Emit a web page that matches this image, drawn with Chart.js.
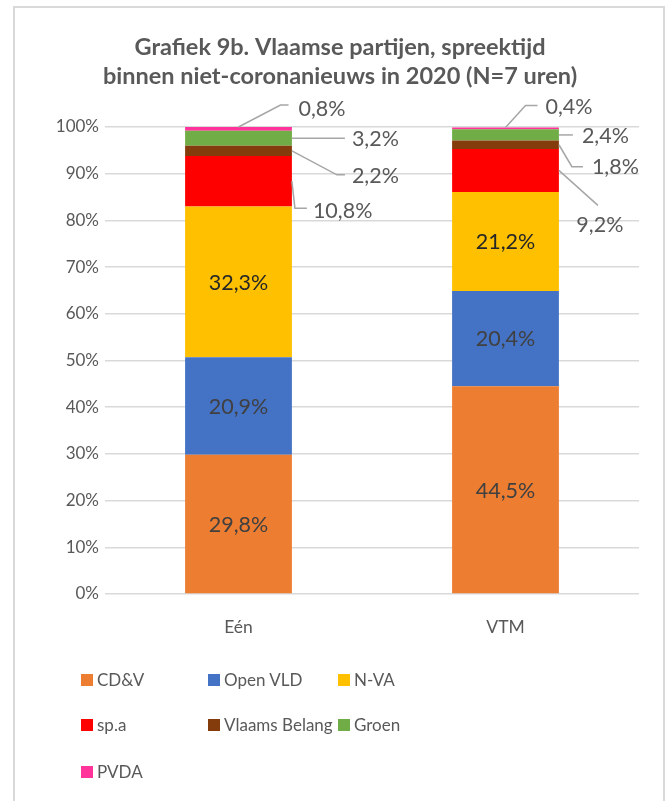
<!DOCTYPE html>
<html>
<head>
<meta charset="utf-8">
<script src="https://cdn.jsdelivr.net/npm/chart.js@4"></script>
<style>
  html, body { margin: 0; padding: 0; background: #fff; }
  #wrap { position: relative; width: 668px; height: 801px; overflow: hidden; }
  #frame { position: absolute; left: 13px; top: 6px; width: 652px; height: 820px; border: 2px solid #d9d9d9; box-sizing: border-box; pointer-events: none; }
  canvas { position: absolute; left: 0; top: 0; }
  .lg { position: absolute; font-family: Lato, "Open Sans", sans-serif; font-size: 17px; color: #595959; line-height: 20px; white-space: nowrap; }
  .lg span.box { position: absolute; left: 0; top: 4px; width: 12px; height: 12px; }
  .lg span.txt { position: absolute; left: 16px; top: 0; }
</style>
</head>
<body>
<div id="wrap">
  <canvas id="c" width="668" height="801"></canvas>
  <div id="frame"></div>
  <div id="legend"></div>
</div>
<script>
// ---- data ----
const categories = ['Eén', 'VTM'];
const parties = ['CD&V', 'Open VLD', 'N-VA', 'sp.a', 'Vlaams Belang', 'Groen', 'PVDA'];
const cdv      = [29.8, 44.5];
const openVld  = [20.9, 20.4];
const nva      = [32.3, 21.2];
const spa      = [10.8, 9.2];
const vb       = [2.2, 1.8];
const groen    = [3.2, 2.4];
const pvda     = [0.8, 0.4];
const yTickValues = [0, 10, 20, 30, 40, 50, 60, 70, 80, 90, 100];
const titleLines = ['Grafiek 9b. Vlaamse partijen, spreektijd', 'binnen niet-coronanieuws in 2020 (N=7 uren)'];

// ---- style ----
const colors = ['#ED7D31', '#4472C4', '#FFC000', '#FF0000', '#843C0C', '#70AD47', '#FF3399'];
const insideText = ['#404040', '#404040', '#262626'];
const FONT = 'Lato, "Open Sans", sans-serif';
const series = [cdv, openVld, nva, spa, vb, groen, pvda];

// callout geometry relative to anchor (style only)
const callouts = {
  3: [ {anchor: 'right', pts: [[3, 27], [15, 27]], text: [21, 30], align: 'left'},
       {anchor: 'right', pts: [[39, 35]], text: [41, 55], align: 'center'} ],
  4: [ {anchor: 'right', pts: [[45, 24], [53, 24]], text: [60, 25], align: 'left'},
       {anchor: 'right', pts: [[13, 22], [24, 22]], text: [33, 22], align: 'left'} ],
  5: [ {anchor: 'right', pts: [[53, 0]], text: [60, 1], align: 'left'},
       {anchor: 'right', pts: [[14, 0]], text: [23, 1], align: 'left'} ],
  6: [ {anchor: 'top', pts: [[42, -22], [50, -22]], text: [60, -18], align: 'left'},
       {anchor: 'top', pts: [[20, -22], [32, -22]], text: [40, -20], align: 'left'} ]
};

const fmt = v => v.toFixed(1).replace('.', ',') + '%';

const labelPlugin = {
  id: 'labels',
  afterDatasetsDraw(chart) {
    const ctx = chart.ctx;
    ctx.save();
    chart.data.datasets.forEach((ds, di) => {
      const meta = chart.getDatasetMeta(di);
      meta.data.forEach((el, bi) => {
        const p = el.getProps(['x', 'y', 'base', 'width'], true);
        const label = fmt(ds.data[bi]);
        const co = callouts[di] && callouts[di][bi];
        ctx.font = '21.5px ' + FONT;
        ctx.textBaseline = 'middle';
        if (!co) {
          ctx.fillStyle = insideText[di] || '#404040';
          ctx.textAlign = 'center';
          ctx.fillText(label, p.x, (p.y + p.base) / 2 + 1);
        } else {
          let ax, ay;
          if (co.anchor === 'top') { ax = p.x; ay = p.y; }
          else { ax = p.x + p.width / 2; ay = (p.y + p.base) / 2; }
          ctx.strokeStyle = '#a6a6a6';
          ctx.lineWidth = 1.5;
          ctx.beginPath();
          ctx.moveTo(ax, ay);
          co.pts.forEach(pt => ctx.lineTo(ax + pt[0], ay + pt[1]));
          ctx.stroke();
          ctx.fillStyle = '#595959';
          ctx.textAlign = co.align;
          ctx.fillText(label, ax + co.text[0], ay + co.text[1]);
        }
      });
    });
    ctx.restore();
  }
};

const titlePlugin = {
  id: 'customTitle',
  afterDraw(chart) {
    const ctx = chart.ctx;
    ctx.save();
    ctx.font = 'bold 23.5px ' + FONT;
    ctx.fillStyle = '#595959';
    ctx.textAlign = 'center';
    ctx.textBaseline = 'middle';
    ctx.fillText(titleLines[0], 340, 47);
    ctx.fillText(titleLines[1], 340, 76);
    ctx.restore();
  }
};

const chart = new Chart(document.getElementById('c'), {
  type: 'bar',
  data: {
    labels: categories,
    datasets: parties.map((name, i) => ({
      label: name,
      data: series[i],
      backgroundColor: colors[i],
      borderWidth: 0,
      barPercentage: 0.4,
      categoryPercentage: 1.0
    }))
  },
  options: {
    responsive: false,
    animation: false,
    layout: { padding: { left: 14, right: 29, top: 127, bottom: 157 } },
    plugins: {
      legend: { display: false },
      title: { display: false },
      tooltip: { enabled: false }
    },
    scales: {
      x: {
        stacked: true,
        grid: { display: false, drawTicks: false },
        border: { display: false },
        ticks: { color: '#595959', font: { family: FONT, size: 17.5 }, padding: 23 },
        afterFit(s) { s.height = 50; }
      },
      y: {
        stacked: true,
        min: 0, max: 100,
        afterBuildTicks(s) { s.ticks = yTickValues.map(v => ({ value: v })); },
        grid: { color: '#d9d9d9', lineWidth: 1.5, drawTicks: false },
        border: { display: false },
        ticks: { color: '#595959', font: { family: FONT, size: 17 }, padding: 6, callback: v => v + '%' },
        afterFit(s) { s.width = 91; }
      }
    }
  },
  plugins: [labelPlugin, titlePlugin]
});

// HTML legend built from dataset info
const legendPos = [[81, 670], [208, 670], [338, 670], [81, 715], [208, 715], [338, 715], [81, 762]];
const lg = document.getElementById('legend');
chart.data.datasets.forEach((ds, i) => {
  const d = document.createElement('div');
  d.className = 'lg';
  d.style.left = legendPos[i][0] + 'px';
  d.style.top = legendPos[i][1] + 'px';
  const b = document.createElement('span');
  b.className = 'box';
  b.style.background = ds.backgroundColor;
  const t = document.createElement('span');
  t.className = 'txt';
  t.textContent = ds.label;
  d.appendChild(b); d.appendChild(t);
  lg.appendChild(d);
});
</script>
</body>
</html>
